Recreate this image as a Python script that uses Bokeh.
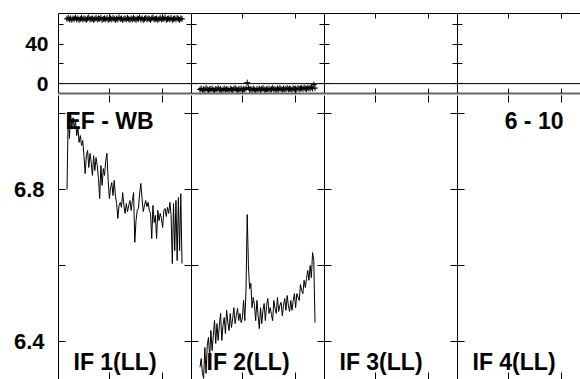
from bokeh.plotting import figure
from bokeh.layouts import gridplot
from bokeh.models import Range1d, LinearAxis, FixedTicker, Label, Span
from bokeh.embed import file_html
from bokeh.resources import INLINE

# ---------------- data ----------------
if_labels = ["IF 1(LL)", "IF 2(LL)", "IF 3(LL)", "IF 4(LL)"]
source_label = "EF - WB"
range_label = "6 - 10"

amp_if1 = [6.800, 7.003, 6.934, 7.000, 6.963, 6.989, 6.961, 6.982, 6.942, 6.961,
           6.924, 6.942, 6.916, 6.929, 6.889, 6.842, 6.889, 6.903, 6.858, 6.895,
           6.871, 6.837, 6.889, 6.850, 6.884, 6.863, 6.829, 6.776, 6.863, 6.811,
           6.855, 6.837, 6.876, 6.895, 6.824, 6.776, 6.805, 6.818, 6.784, 6.824,
           6.784, 6.763, 6.724, 6.758, 6.766, 6.753, 6.792, 6.758, 6.737, 6.763,
           6.742, 6.758, 6.771, 6.745, 6.771, 6.792, 6.661, 6.718, 6.745, 6.750,
           6.789, 6.816, 6.776, 6.742, 6.758, 6.771, 6.755, 6.766, 6.745, 6.737,
           6.671, 6.758, 6.713, 6.732, 6.671, 6.745, 6.718, 6.737, 6.724, 6.700,
           6.745, 6.750, 6.729, 6.753, 6.737, 6.766, 6.732, 6.605, 6.763, 6.639,
           6.771, 6.613, 6.779, 6.639, 6.789, 6.605]

amp_if2 = [6.332, 6.355, 6.318, 6.303, 6.384, 6.316, 6.389, 6.411, 6.358, 6.429,
           6.376, 6.416, 6.455, 6.395, 6.447, 6.403, 6.442, 6.474, 6.403, 6.442,
           6.463, 6.421, 6.482, 6.450, 6.429, 6.474, 6.437, 6.461, 6.489, 6.447,
           6.468, 6.487, 6.455, 6.474, 6.450, 6.461, 6.508, 6.455, 6.534, 6.734,
           6.600, 6.539, 6.553, 6.489, 6.516, 6.495, 6.455, 6.508, 6.468, 6.434,
           6.489, 6.447, 6.482, 6.500, 6.455, 6.495, 6.513, 6.474, 6.489, 6.471,
           6.455, 6.508, 6.487, 6.474, 6.516, 6.479, 6.495, 6.503, 6.468, 6.495,
           6.513, 6.482, 6.521, 6.495, 6.479, 6.508, 6.482, 6.508, 6.526, 6.489,
           6.526, 6.516, 6.508, 6.550, 6.534, 6.526, 6.561, 6.542, 6.566, 6.587,
           6.561, 6.600, 6.568, 6.634, 6.613, 6.450]

phase_if1 = [65.5, 66.5, 65.0, 66.0, 64.5, 66.0, 65.5, 67.0, 65.0, 66.0, 64.5, 65.5,
             66.5, 65.0, 66.0, 65.5, 64.5, 66.0, 67.0, 65.0, 65.5, 66.0, 64.5, 65.5,
             66.5, 65.0, 66.0, 65.5, 67.0, 64.5, 65.5, 66.0, 65.0, 66.5, 64.5, 65.5,
             66.0, 65.0, 66.5, 65.5, 64.5, 66.0, 65.0, 67.0, 65.5, 66.0, 64.5, 65.5,
             66.0, 65.0, 66.5, 65.5, 64.5, 66.0, 65.0, 66.5, 65.5, 64.5, 66.0, 65.5,
             67.0, 65.0, 66.0, 64.5, 65.5, 66.5, 65.0, 66.0, 65.5, 64.5, 66.0, 67.0,
             65.0, 65.5, 66.0, 64.5, 65.5, 66.5, 65.0, 66.0, 65.5, 67.0, 64.5, 65.5,
             66.0, 65.0, 66.5, 64.5, 65.5, 66.0, 65.0, 66.5, 65.5, 64.5, 66.0, 65.5]

phase_if2 = [-6.0, -5.0, -7.0, -5.5, -6.5, -4.5, -6.0, -7.0, -5.5, -6.0, -5.0, -6.5,
             -7.0, -5.5, -6.0, -4.5, -6.5, -5.5, -7.0, -6.0, -5.0, -6.5, -5.5, -6.0,
             -7.0, -5.0, -6.0, -6.5, -5.5, -4.5, -6.0, -7.0, -5.5, -6.0, -5.0, -6.5,
             -5.5, -6.0, -5.0, 1.0, -4.0, -6.0, -5.5, -6.5, -5.0, -6.0, -7.0, -5.5,
             -6.0, -5.0, -6.5, -5.5, -4.5, -6.0, -7.0, -5.5, -6.0, -5.0, -6.5, -5.5,
             -4.5, -6.0, -5.5, -6.5, -5.0, -6.0, -4.5, -5.5, -6.5, -5.0, -6.0, -5.5,
             -4.5, -6.0, -5.0, -5.5, -6.5, -4.5, -5.5, -5.0, -6.0, -4.5, -5.5, -5.0,
             -4.5, -5.5, -4.0, -5.0, -5.5, -4.0, -5.0, -4.5, -3.5, -5.0, -1.0, -4.5]

amp_series = [amp_if1, amp_if2, None, None]
phase_series = [phase_if1, phase_if2, None, None]

phase_major = [0, 40]
phase_minor = [20, 60]
amp_major = [6.4, 6.8]
amp_minor = [6.6, 7.0]

# ---------------- layout / style ----------------
FONT = "Liberation Sans"
PPC = 115 / 95.0            # pixels per channel
X0 = -8.5 / PPC
COL_W = [133, 133, 133, 123]
LEFT_PAD = 58
XTICKS = [X0 + 51 / PPC, X0 + 104 / PPC]
TOP_H, TOP_PAD, TOP_GAP = 80, 13, 2
BOT_H = 284
PH_RANGE = (-10, 71)
AMP_RANGE = (6.3, 7.0474)


def add_axis(p, side, major, minor, tick_len, labels=False, standoff=0, size="22px",
             line_color="black", line_width=1):
    if labels:
        ticker = FixedTicker(ticks=major, minor_ticks=minor)
    else:
        ticker = FixedTicker(ticks=[], minor_ticks=list(major) + list(minor))
    ax = LinearAxis(ticker=ticker,
                    major_tick_in=tick_len, major_tick_out=0,
                    minor_tick_in=tick_len, minor_tick_out=0,
                    axis_line_color=line_color, axis_line_width=line_width,
                    major_tick_line_color="black", minor_tick_line_color="black",
                    major_label_standoff=standoff)
    if labels:
        ax.major_label_text_font = FONT
        ax.major_label_text_font_style = "bold"
        ax.major_label_text_font_size = size
        ax.major_label_text_color = "black"
    else:
        ax.major_label_standoff = 0
    p.add_layout(ax, side)
    return ax


def base_fig(i, h, yr, top_pad, bottom_pad):
    w = COL_W[i] + (LEFT_PAD if i == 0 else 0)
    p = figure(width=w, height=h + top_pad + bottom_pad,
               x_range=Range1d(X0, X0 + COL_W[i] / PPC),
               y_range=Range1d(*yr),
               x_axis_location=None, y_axis_location=None,
               output_backend="svg", toolbar_location=None,
               min_border_left=(LEFT_PAD if i == 0 else 0), min_border_right=0,
               min_border_top=top_pad, min_border_bottom=bottom_pad,
               outline_line_color=None, background_fill_color="white",
               border_fill_color="white")
    p.xgrid.visible = False
    p.ygrid.visible = False
    return p


top_row, bot_row = [], []
for i in range(4):
    # ---- phase panel ----
    t = base_fig(i, TOP_H, PH_RANGE, TOP_PAD, TOP_GAP)
    add_axis(t, "above", XTICKS, [], 5)
    add_axis(t, "below", XTICKS, [], 5, line_color="#666666", line_width=2)
    add_axis(t, "left", phase_major, phase_minor, 5, labels=(i == 0), standoff=10, size="21px")
    if i < 3:
        add_axis(t, "right", phase_major, phase_minor, 5)
    t.add_layout(Span(location=0, dimension="width", line_color="black", line_width=1))
    if phase_series[i] is not None:
        ys = phase_series[i]
        t.scatter(list(range(len(ys))), ys, marker="cross", size=6,
                  line_color="black", line_width=1)
    top_row.append(t)

    # ---- amplitude panel ----
    b = base_fig(i, BOT_H, AMP_RANGE, 0, 0)
    add_axis(b, "above", XTICKS, [], 7, line_color=None)
    add_axis(b, "below", XTICKS, [], 7, line_color=None)
    add_axis(b, "left", amp_major, amp_minor, 7, labels=(i == 0), standoff=14, size="22px")
    if i < 3:
        add_axis(b, "right", amp_major, amp_minor, 7)
    if amp_series[i] is not None:
        ys = amp_series[i]
        b.line(list(range(len(ys))), ys, line_color="black", line_width=1)
    b.add_layout(Label(x=X0 + 15 / PPC, y=6.347, text=if_labels[i],
                       text_font=FONT, text_font_style="bold", text_font_size="23px",
                       text_color="black", text_align="left", text_baseline="alphabetic"))
    if i == 0:
        b.add_layout(Label(x=X0 + 7 / PPC, y=6.979, text=source_label,
                           text_font=FONT, text_font_style="bold", text_font_size="23px",
                           text_color="black", text_align="left", text_baseline="alphabetic"))
    if i == 3:
        b.add_layout(Label(x=X0 + 106 / PPC, y=6.979, text=range_label,
                           text_font=FONT, text_font_style="bold", text_font_size="23px",
                           text_color="black", text_align="right", text_baseline="alphabetic"))
    bot_row.append(b)

grid = gridplot([top_row, bot_row], toolbar_location=None)

open("out.html", "w").write(file_html(grid, INLINE))
